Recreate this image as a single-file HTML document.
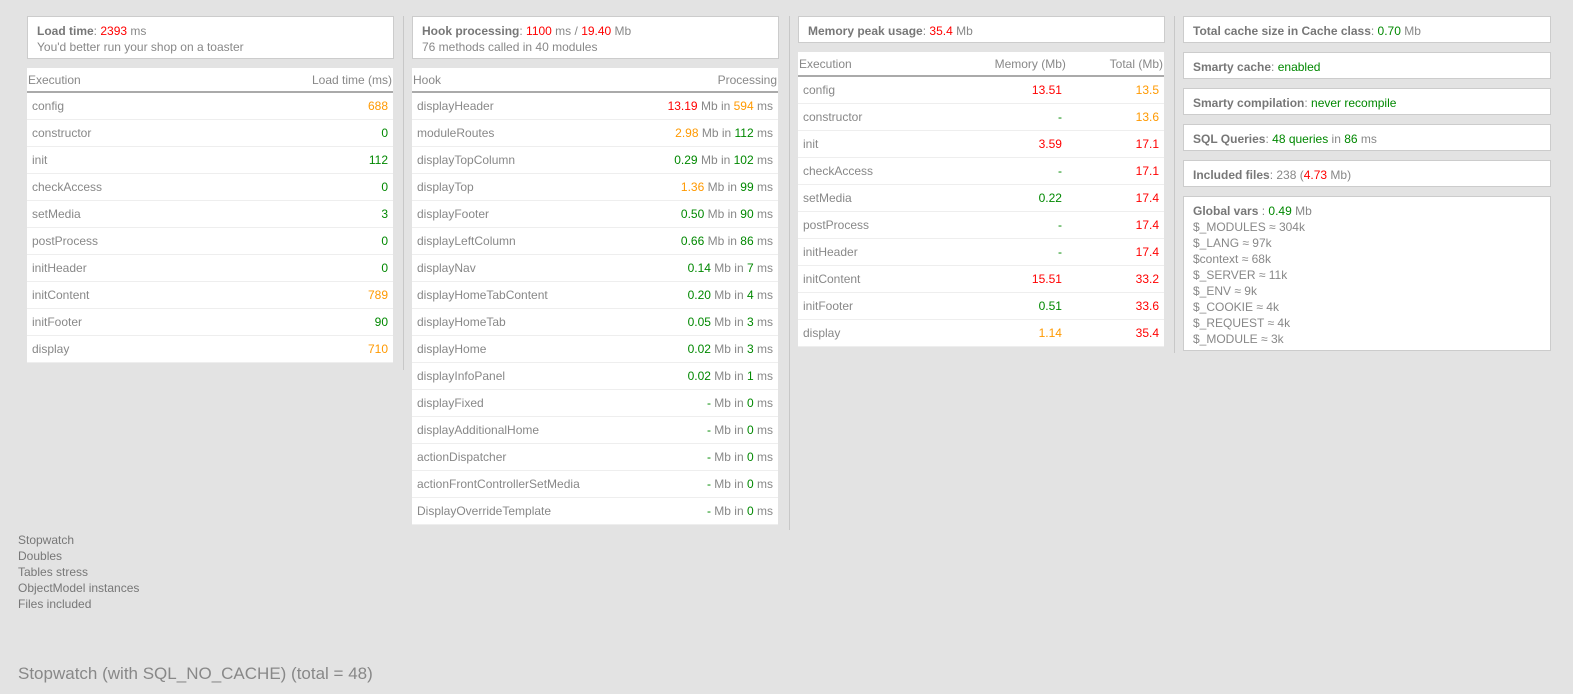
<!DOCTYPE html>
<html><head><meta charset="utf-8"><style>
body{margin:0;width:1573px;height:694px;background:#e3e3e3;font-family:"Liberation Sans",sans-serif;font-size:12px;color:#888;position:relative;overflow:hidden}
.box{position:absolute;background:#fff;border:1px solid #ccc;box-sizing:border-box;padding:6px 9px;line-height:16px}
b{color:#777}
table{position:absolute;background:#fff;border-collapse:collapse;font-size:12px}
th{font-weight:normal;color:#888;text-align:left;height:23px;border-bottom:2px solid #aaa;padding:0 1px}
td{height:26px;border-bottom:1px solid #eee;padding:0 5px;color:#888}
.r{text-align:right}
.red{color:#f00}.or{color:#f90}.gr{color:#080}
.vl{position:absolute;width:1px;background:#c8c8c8}
</style></head><body>
<div class="vl" style="left:403px;top:16px;height:354px"></div>
<div class="vl" style="left:789px;top:16px;height:514px"></div>
<div class="vl" style="left:1174px;top:16px;height:337px"></div>

<div class="box" style="left:27px;top:16px;width:367px;height:43px"><b>Load time</b>: <span class="red">2393</span> ms<br>You'd better run your shop on a toaster</div>
<table style="left:27px;top:68px;width:366px">
<tr><th>Execution</th><th class="r">Load time (ms)</th></tr>
<tr><td>config</td><td class="r or">688</td></tr>
<tr><td>constructor</td><td class="r gr">0</td></tr>
<tr><td>init</td><td class="r gr">112</td></tr>
<tr><td>checkAccess</td><td class="r gr">0</td></tr>
<tr><td>setMedia</td><td class="r gr">3</td></tr>
<tr><td>postProcess</td><td class="r gr">0</td></tr>
<tr><td>initHeader</td><td class="r gr">0</td></tr>
<tr><td>initContent</td><td class="r or">789</td></tr>
<tr><td>initFooter</td><td class="r gr">90</td></tr>
<tr><td>display</td><td class="r or">710</td></tr>
</table>

<div class="box" style="left:412px;top:16px;width:367px;height:43px"><b>Hook processing</b>: <span class="red">1100</span> ms / <span class="red">19.40</span> Mb<br>76 methods called in 40 modules</div>
<table style="left:412px;top:68px;width:366px">
<tr><th>Hook</th><th class="r">Processing</th></tr>
<tr><td>displayHeader</td><td class="r"><span class="red">13.19</span> Mb in <span class="or">594</span> ms</td></tr>
<tr><td>moduleRoutes</td><td class="r"><span class="or">2.98</span> Mb in <span class="gr">112</span> ms</td></tr>
<tr><td>displayTopColumn</td><td class="r"><span class="gr">0.29</span> Mb in <span class="gr">102</span> ms</td></tr>
<tr><td>displayTop</td><td class="r"><span class="or">1.36</span> Mb in <span class="gr">99</span> ms</td></tr>
<tr><td>displayFooter</td><td class="r"><span class="gr">0.50</span> Mb in <span class="gr">90</span> ms</td></tr>
<tr><td>displayLeftColumn</td><td class="r"><span class="gr">0.66</span> Mb in <span class="gr">86</span> ms</td></tr>
<tr><td>displayNav</td><td class="r"><span class="gr">0.14</span> Mb in <span class="gr">7</span> ms</td></tr>
<tr><td>displayHomeTabContent</td><td class="r"><span class="gr">0.20</span> Mb in <span class="gr">4</span> ms</td></tr>
<tr><td>displayHomeTab</td><td class="r"><span class="gr">0.05</span> Mb in <span class="gr">3</span> ms</td></tr>
<tr><td>displayHome</td><td class="r"><span class="gr">0.02</span> Mb in <span class="gr">3</span> ms</td></tr>
<tr><td>displayInfoPanel</td><td class="r"><span class="gr">0.02</span> Mb in <span class="gr">1</span> ms</td></tr>
<tr><td>displayFixed</td><td class="r"><span class="gr">-</span> Mb in <span class="gr">0</span> ms</td></tr>
<tr><td>displayAdditionalHome</td><td class="r"><span class="gr">-</span> Mb in <span class="gr">0</span> ms</td></tr>
<tr><td>actionDispatcher</td><td class="r"><span class="gr">-</span> Mb in <span class="gr">0</span> ms</td></tr>
<tr><td>actionFrontControllerSetMedia</td><td class="r"><span class="gr">-</span> Mb in <span class="gr">0</span> ms</td></tr>
<tr><td>DisplayOverrideTemplate</td><td class="r"><span class="gr">-</span> Mb in <span class="gr">0</span> ms</td></tr>
</table>

<div class="box" style="left:798px;top:16px;width:367px;height:27px"><b>Memory peak usage</b>: <span class="red">35.4</span> Mb</div>
<table style="left:798px;top:52px;width:366px">
<tr><th>Execution</th><th class="r">Memory (Mb)</th><th class="r">Total (Mb)</th></tr>
<tr><td>config</td><td class="r red">13.51</td><td class="r or">13.5</td></tr>
<tr><td>constructor</td><td class="r gr">-</td><td class="r or">13.6</td></tr>
<tr><td>init</td><td class="r red">3.59</td><td class="r red">17.1</td></tr>
<tr><td>checkAccess</td><td class="r gr">-</td><td class="r red">17.1</td></tr>
<tr><td>setMedia</td><td class="r gr">0.22</td><td class="r red">17.4</td></tr>
<tr><td>postProcess</td><td class="r gr">-</td><td class="r red">17.4</td></tr>
<tr><td>initHeader</td><td class="r gr">-</td><td class="r red">17.4</td></tr>
<tr><td>initContent</td><td class="r red">15.51</td><td class="r red">33.2</td></tr>
<tr><td>initFooter</td><td class="r gr">0.51</td><td class="r red">33.6</td></tr>
<tr><td>display</td><td class="r or">1.14</td><td class="r red">35.4</td></tr>
</table>

<div class="box" style="left:1183px;top:16px;width:368px;height:27px"><b>Total cache size in Cache class</b>: <span class="gr">0.70</span> Mb</div>
<div class="box" style="left:1183px;top:52px;width:368px;height:27px"><b>Smarty cache</b>: <span class="gr">enabled</span></div>
<div class="box" style="left:1183px;top:88px;width:368px;height:27px"><b>Smarty compilation</b>: <span class="gr">never recompile</span></div>
<div class="box" style="left:1183px;top:124px;width:368px;height:27px"><b>SQL Queries</b>: <span class="gr">48 queries</span> in <span class="gr">86</span> ms</div>
<div class="box" style="left:1183px;top:160px;width:368px;height:27px"><b>Included files</b>: 238 (<span class="red">4.73</span> Mb)</div>
<div class="box" style="left:1183px;top:196px;width:368px;height:155px"><b>Global vars</b> : <span class="gr">0.49</span> Mb<br>$_MODULES ≈ 304k<br>$_LANG ≈ 97k<br>$context ≈ 68k<br>$_SERVER ≈ 11k<br>$_ENV ≈ 9k<br>$_COOKIE ≈ 4k<br>$_REQUEST ≈ 4k<br>$_MODULE ≈ 3k</div>

<div style="position:absolute;left:18px;top:532px;line-height:16px;color:#777">Stopwatch<br>Doubles<br>Tables stress<br>ObjectModel instances<br>Files included</div>
<div style="position:absolute;left:18px;top:664px;font-size:17px;color:#888">Stopwatch (with SQL_NO_CACHE) (total = 48)</div>
</body></html>
